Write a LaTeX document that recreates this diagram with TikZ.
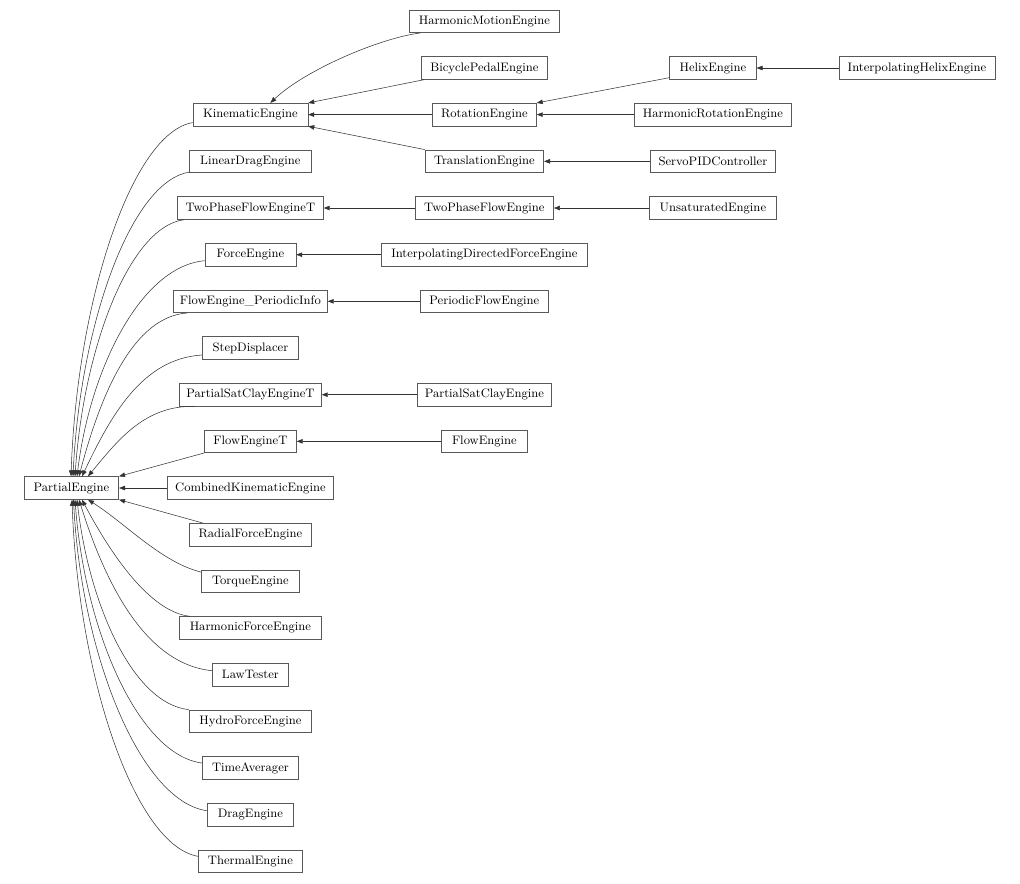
\documentclass[tikz,border=0pt]{standalone}
\usetikzlibrary{arrows.meta,calc}
\tikzset{
  box/.style={draw=black!65, line width=0.5pt, inner sep=0pt, fill=white,
    minimum height={22.7*0.75pt}, minimum width={#1*0.75pt},
    font=\fontsize{9.2}{11}\selectfont},
  inh/.style={draw=black!80, line width=0.4pt, -{Triangle[length=4.5pt,width=3.4pt]}}
}
\begin{document}
\begin{tikzpicture}[x=0.75pt,y=-0.75pt]
\useasboundingbox (0,0) rectangle (1020,883);
% column 0
\node[box=94.4] (pe) at (71.5,488.0) {PartialEngine};
% column 1
\node[box=115]   (kin)  at (250.4,114.6) {KinematicEngine};
\node[box=122]   (ld)   at (250.4,161.3) {LinearDragEngine};
\node[box=146]   (tpt)  at (250.4,208.0) {TwoPhaseFlowEngineT};
\node[box=91]    (fe)   at (250.4,254.7) {ForceEngine};
\node[box=154]   (fpi)  at (250.4,301.3) {FlowEngine\_PeriodicInfo};
\node[box=96]    (sd)   at (250.4,348.0) {StepDisplacer};
\node[box=142]   (psct) at (250.4,394.7) {PartialSatClayEngineT};
\node[box=92]    (fet)  at (250.4,441.3) {FlowEngineT};
\node[box=166.6] (cke)  at (250.4,488.0) {CombinedKinematicEngine};
\node[box=122.7] (rfe)  at (250.4,534.7) {RadialForceEngine};
\node[box=98]    (tq)   at (250.4,581.3) {TorqueEngine};
\node[box=142]   (hfe)  at (250.4,628.0) {HarmonicForceEngine};
\node[box=76]    (lt)   at (250.4,674.7) {LawTester};
\node[box=122.7] (hy)   at (250.4,721.3) {HydroForceEngine};
\node[box=96.3]  (ta)   at (250.4,768.0) {TimeAverager};
\node[box=86.7]  (de)   at (250.4,814.7) {DragEngine};
\node[box=104]   (te)   at (250.4,861.3) {ThermalEngine};
% column 2
\node[box=149.5] (hmo)  at (484.4,21.3)  {HarmonicMotionEngine};
\node[box=126]   (bpe)  at (484.4,68.0)  {BicyclePedalEngine};
\node[box=104]   (rot)  at (484.4,114.6) {RotationEngine};
\node[box=118.6] (tr)   at (484.4,161.3) {TranslationEngine};
\node[box=138.4] (tpf)  at (484.4,208.0) {TwoPhaseFlowEngine};
\node[box=206]   (idfe) at (484.4,254.7) {InterpolatingDirectedForceEngine};
\node[box=128]   (pfe)  at (484.4,301.3) {PeriodicFlowEngine};
\node[box=134]   (psc)  at (484.4,394.7) {PartialSatClayEngine};
\node[box=86]    (fle)  at (484.4,441.3) {FlowEngine};
% column 3
\node[box=86.6]  (hel)  at (712.9,68.0)  {HelixEngine};
\node[box=156.6] (hro)  at (712.9,114.6) {HarmonicRotationEngine};
\node[box=125.7] (spid) at (712.9,161.3) {ServoPIDController};
\node[box=126.5] (uns)  at (712.9,208.0) {UnsaturatedEngine};
% column 4
\node[box=156]   (ihe)  at (917.0,68.0)  {InterpolatingHelixEngine};

% straight inheritance edges
\draw[inh] (ihe.west) -- (hel.east);
\draw[inh] (hro.west) -- (rot.east);
\draw[inh] ($(hel.south west)+(0,-2)$) -- (rot.north east);
\draw[inh] (spid.west) -- (tr.east);
\draw[inh] (uns.west) -- (tpf.east);
\draw[inh] (tpf.west) -- (tpt.east);
\draw[inh] (idfe.west) -- (fe.east);
\draw[inh] (pfe.west) -- (fpi.east);
\draw[inh] (psc.west) -- (psct.east);
\draw[inh] (fle.west) -- (fet.east);
\draw[inh] (rot.west) -- (kin.east);
\draw[inh] ($(bpe.south west)+(3,0)$) -- (kin.north east);
\draw[inh] (tr.north west) -- (kin.south east);
\draw[inh] ($(hmo.south west)+(11,0)$) .. controls (380,38) and (305,70) .. ($(kin.north)+(20,0)$);
\draw[inh] (fet.south west) -- (pe.north east);
\draw[inh] (cke.west) -- (pe.east);
\draw[inh] ($(rfe.north west)+(14,0)$) -- (pe.south east);

% curved edges to PartialEngine (upper)
\draw[inh] ($(kin.west)+(0,8)$) .. controls (132,133) and (77,300) .. ($(pe.north)+(-0.5,0)$);
\draw[inh] ($(ld.south west)+(1,-1)$) .. controls (131.5,180) and (80.2,323.7) .. ($(pe.north)+(1.5,0)$);
\draw[inh] ($(tpt.south west)+(7,0)$) .. controls (129.5,226.7) and (83.7,347.8) .. ($(pe.north)+(3.5,0)$);
\draw[inh] ($(fe.west)+(0,6)$) .. controls (141,266.5) and (90.2,368.3) .. ($(pe.north)+(5.5,0)$);
\draw[inh] ($(fpi.south west)+(14,0)$) .. controls (133,316.9) and (100.6,394.3) .. ($(pe.north)+(7.5,0)$);
\draw[inh] ($(sd.west)+(0,7)$) .. controls (142,358.6) and (110.8,415.8) .. ($(pe.north)+(10.5,0)$);
\draw[inh] ($(psct.south west)+(16,0)$) .. controls (145,405) and (118,440) .. ($(pe.north)+(16.5,0)$);

% curved edges to PartialEngine (lower)
\draw[inh] ($(tq.north west)+(0,2.5)$) .. controls (161,562) and (125,523) .. ($(pe.south)+(16.5,0)$);
\draw[inh] ($(hfe.north west)+(11,0)$) .. controls (150,612) and (111,554.5) .. ($(pe.south)+(10.5,0)$);
\draw[inh] ($(lt.west)+(0,-4)$) .. controls (145.5,664) and (105.6,584.3) .. ($(pe.south)+(7.5,0)$);
\draw[inh] (hy.north west) .. controls (133,703.7) and (89.1,604.8) .. ($(pe.south)+(5.5,0)$);
\draw[inh] ($(ta.west)+(0,-5)$) .. controls (138.5,754.7) and (84.8,631) .. ($(pe.south)+(3.5,0)$);
\draw[inh] ($(de.west)+(0,-4)$) .. controls (140.3,801) and (81.5,654.9) .. ($(pe.south)+(2,0)$);
\draw[inh] ($(te.west)+(0,-5)$) .. controls (135,845.6) and (78.2,677.9) .. ($(pe.south)+(0.5,0)$);
\end{tikzpicture}
\end{document}
